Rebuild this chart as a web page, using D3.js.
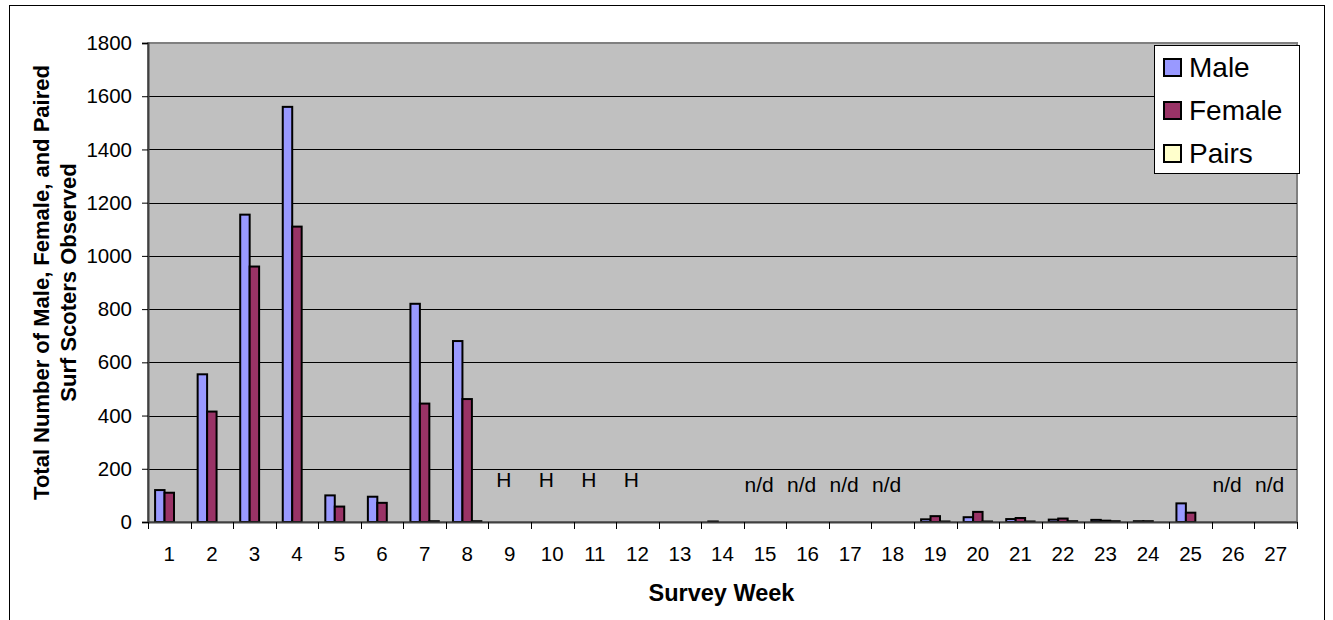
<!DOCTYPE html>
<html>
<head>
<meta charset="utf-8">
<script src="https://cdn.jsdelivr.net/npm/d3@7"></script>
<style>
  html, body { margin: 0; padding: 0; background: #fff; }
  svg { display: block; font-family: "Liberation Sans", Arial, sans-serif; }
</style>
</head>
<body>
<svg id="chart" width="1333" height="620"></svg>
<script>
// Survey weeks along the x axis
const weeks = ["1","2","3","4","5","6","7","8","9","10","11","12","13","14",
               "15","16","17","18","19","20","21","22","23","24","25","26","27"];

// Counts per week (null = no survey that week)
const male   = [120, 555, 1155, 1560, 100, 95, 820, 680, null, null, null, null, 0, 2,
                null, null, null, null, 10, 18, 11, 9, 8, 3, 70, null, null];
const female = [110, 415, 960, 1110, 58, 72, 445, 462, null, null, null, null, 0, 0,
                null, null, null, null, 22, 38, 15, 13, 5, 3, 35, null, null];
const pairs  = [0, 0, 0, 0, 0, 0, 3, 3, null, null, null, null, 0, 0,
                null, null, null, null, 2, 2, 2, 3, 3, 0, 0, null, null];

const seriesNames = ["Male", "Female", "Pairs"];
const seriesColors = ["#9999FF", "#993366", "#FFFFCC"];

// Annotations for weeks without counts
const noteWeeks = ["9", "10", "11", "12", "15", "16", "17", "18", "26", "27"];
const noteTexts = ["H", "H", "H", "H", "n/d", "n/d", "n/d", "n/d", "n/d", "n/d"];

const yTicks = [0, 200, 400, 600, 800, 1000, 1200, 1400, 1600, 1800];

const svg = d3.select("#chart");
const FONT = "Liberation Sans, Arial, sans-serif";

// Outer chart frame
svg.append("rect")
  .attr("x", 9.5).attr("y", 5.5)
  .attr("width", 1315).attr("height", 630)
  .attr("fill", "#fff").attr("stroke", "#000").attr("stroke-width", 1);

const plot = { left: 148, right: 1297, top: 43, bottom: 522 };

const x = d3.scaleBand().domain(weeks).range([plot.left, plot.right]).padding(0);
const xs = d3.scaleBand().domain(seriesNames).range([0, x.bandwidth()])
  .paddingInner(0).paddingOuter(0.75);
const y = d3.scaleLinear().domain([0, 1800]).range([plot.bottom, plot.top]);

// Plot background
svg.append("rect")
  .attr("x", plot.left).attr("y", plot.top)
  .attr("width", plot.right - plot.left).attr("height", plot.bottom - plot.top)
  .attr("fill", "#C0C0C0").attr("stroke", "#808080").attr("stroke-width", 2);

// Horizontal gridlines
svg.append("g").selectAll("line")
  .data(yTicks.filter(d => d > 0 && d < 1800))
  .join("line")
  .attr("x1", plot.left).attr("x2", plot.right)
  .attr("y1", d => Math.round(y(d)) + 0.5).attr("y2", d => Math.round(y(d)) + 0.5)
  .attr("stroke", "#000").attr("stroke-width", 1);

// Bars
const seriesData = [male, female, pairs];
const barRows = [];
seriesData.forEach((vals, si) => {
  vals.forEach((v, i) => {
    if (v !== null) barRows.push({ week: weeks[i], series: seriesNames[si], value: v, si });
  });
});

svg.append("g").selectAll("rect")
  .data(barRows)
  .join("rect")
  .attr("x", d => x(d.week) + xs(d.series))
  .attr("y", d => y(d.value))
  .attr("width", xs.bandwidth())
  .attr("height", d => y(0) - y(d.value))
  .attr("fill", d => seriesColors[d.si])
  .attr("stroke", "#000")
  .attr("stroke-width", 2);

// Y axis
const yAxis = d3.axisLeft(y).tickValues(yTicks).tickFormat(d3.format("d"))
  .tickSize(6).tickPadding(10);
const gy = svg.append("g").attr("transform", `translate(${plot.left},0)`).call(yAxis);
gy.select(".domain").attr("stroke", "#404040").attr("stroke-width", 2);
gy.selectAll(".tick line").attr("stroke", "#000");
gy.selectAll(".tick text").attr("font-size", 20.5).attr("fill", "#000")
  .attr("font-family", FONT);

// X axis: labels centred on categories, tick marks between categories
const xAxis = d3.axisBottom(x).tickSize(0).tickPadding(24).tickSizeOuter(0);
const gx = svg.append("g").attr("transform", `translate(0,${plot.bottom})`).call(xAxis);
gx.select(".domain").attr("stroke", "#404040").attr("stroke-width", 2);
gx.selectAll(".tick text").attr("font-size", 20.5).attr("fill", "#000")
  .attr("font-family", FONT);

const boundaries = weeks.map(w => x(w)).concat([x.range()[1]]);
svg.append("g").selectAll("line")
  .data(boundaries)
  .join("line")
  .attr("x1", d => Math.round(d) + 0.5).attr("x2", d => Math.round(d) + 0.5)
  .attr("y1", plot.bottom).attr("y2", plot.bottom + 7)
  .attr("stroke", "#000");

// Notes for weeks without data
svg.append("g").selectAll("text")
  .data(noteWeeks.map((w, i) => ({ w, t: noteTexts[i] })))
  .join("text")
  .attr("x", d => x(d.w) + x.bandwidth() / 2 - 6)
  .attr("y", d => d.t === "H" ? 487 : 492)
  .attr("text-anchor", "middle")
  .attr("font-size", 21)
  .text(d => d.t);

// Axis titles
svg.append("text")
  .attr("x", (plot.left + plot.right) / 2 - 1)
  .attr("y", 601)
  .attr("text-anchor", "middle")
  .attr("font-size", 23.5).attr("font-weight", "bold")
  .text("Survey Week");

const yTitle = svg.append("text")
  .attr("transform", `translate(49,${(plot.top + plot.bottom) / 2}) rotate(-90)`)
  .attr("text-anchor", "middle")
  .attr("font-size", 22).attr("font-weight", "bold");
yTitle.append("tspan").attr("x", 0).attr("dy", 0).text("Total Number of Male, Female, and Paired");
yTitle.append("tspan").attr("x", 0).attr("dy", 27).text("Surf Scoters Observed");

// Legend
const legend = svg.append("g").attr("transform", "translate(1154,45)");
legend.append("rect")
  .attr("x", 0.5).attr("y", 0.5).attr("width", 145).attr("height", 128)
  .attr("fill", "#fff").attr("stroke", "#000").attr("stroke-width", 1);
seriesNames.forEach((name, i) => {
  const cy = 22 + i * 43;
  legend.append("rect")
    .attr("x", 10).attr("y", cy - 8).attr("width", 17).attr("height", 17)
    .attr("fill", seriesColors[i]).attr("stroke", "#000").attr("stroke-width", 2);
  legend.append("text")
    .attr("x", 35).attr("y", cy + 10)
    .attr("font-size", 28)
    .text(name);
});
</script>
</body>
</html>
